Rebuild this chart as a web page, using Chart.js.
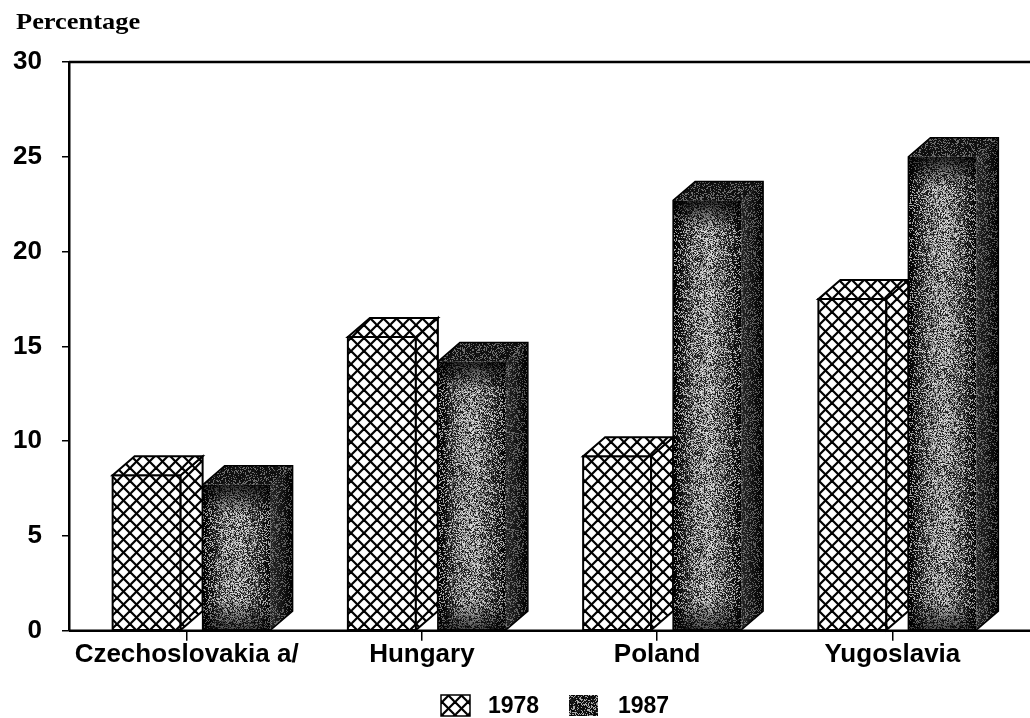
<!DOCTYPE html>
<html>
<head>
<meta charset="utf-8">
<script src="https://cdn.jsdelivr.net/npm/chart.js@4"></script>
<style>
html, body { margin: 0; background: #fff; }
#wrap { width: 1030px; height: 718px; }
</style>
</head>
<body>
<div id="wrap"><canvas id="canva"></canvas></div>
<script>
// data
const categories = ['Czechoslovakia a/', 'Hungary', 'Poland', 'Yugoslavia'];
const years = ['1978', '1987'];
const values1978 = [8.2, 15.5, 9.2, 17.5];
const values1987 = [7.7, 14.2, 22.7, 25.0];
const yTicks = [0, 5, 10, 15, 20, 25, 30];
const yTitle = 'Percentage';

const ctx = document.getElementById('canva');
const g2d = ctx.getContext('2d');

Chart.defaults.font.family = "'Liberation Sans', Arial, sans-serif";
Chart.defaults.color = '#000';

// cross hatch tile for 1978
function makeHatch() {
    const s = 13;
    const c = document.createElement('canvas');
    c.width = s; c.height = s;
    const g = c.getContext('2d');
    g.fillStyle = '#fff';
    g.fillRect(0, 0, s, s);
    g.strokeStyle = '#000';
    g.lineWidth = 2.2;
    for (const o of [-s, 0, s]) {
        g.beginPath(); g.moveTo(o - 1, -1); g.lineTo(o + s + 1, s + 1); g.stroke();
        g.beginPath(); g.moveTo(o + s + 1, -1); g.lineTo(o - 1, s + 1); g.stroke();
    }
    return g2d.createPattern(c, 'repeat');
}

// salt and pepper grain for 1987 (fixed hash, not data)
function makeGrain(size, seed) {
    const c = document.createElement('canvas');
    c.width = size; c.height = size;
    const g = c.getContext('2d');
    const img = g.createImageData(size, size);
    for (let i = 0; i < size * size; i++) {
        let h = Math.sin((i + seed) * 12.9898) * 43758.5453;
        h -= Math.floor(h);
        const p = i * 4;
        if (h < 0.36) {
            img.data[p] = img.data[p + 1] = img.data[p + 2] = 0; img.data[p + 3] = 190;
        } else if (h > 0.72) {
            img.data[p] = img.data[p + 1] = img.data[p + 2] = 255; img.data[p + 3] = 160;
        }
    }
    g.putImageData(img, 0, 0);
    return g2d.createPattern(c, 'repeat');
}

const hatch = makeHatch();
const grain = makeGrain(97, 7);

const dx = 22, dy = 19, shift = 16;

function poly(g, pts) {
    g.beginPath();
    g.moveTo(pts[0][0], pts[0][1]);
    for (let i = 1; i < pts.length; i++) g.lineTo(pts[i][0], pts[i][1]);
    g.closePath();
}

function hatchBar(g, L, R, T, B) {
    const faces = [
        [[L, T], [R, T], [R, B], [L, B]],
        [[R, T], [R + dx, T - dy], [R + dx, B - dy], [R, B]],
        [[L, T], [L + dx, T - dy], [R + dx, T - dy], [R, T]]
    ];
    g.lineWidth = 2;
    g.strokeStyle = '#000';
    g.lineJoin = 'miter';
    faces.forEach(f => {
        poly(g, f);
        g.fillStyle = hatch;
        g.fill();
        g.stroke();
    });
}

function grainBar(g, L, R, T, B) {
    // front
    const gr = g.createLinearGradient(L, 0, R, 0);
    gr.addColorStop(0, '#000');
    gr.addColorStop(0.1, '#1a1a1a');
    gr.addColorStop(0.32, '#7c7c7c');
    gr.addColorStop(0.55, '#9c9c9c');
    gr.addColorStop(0.82, '#4a4a4a');
    gr.addColorStop(1, '#050505');
    g.fillStyle = gr;
    g.fillRect(L, T, R - L, B - T);
    g.fillStyle = grain;
    g.fillRect(L, T, R - L, B - T);
    const vt = g.createLinearGradient(0, T, 0, T + 30);
    vt.addColorStop(0, 'rgba(0,0,0,0.8)');
    vt.addColorStop(1, 'rgba(0,0,0,0)');
    g.fillStyle = vt;
    g.fillRect(L, T, R - L, 30);
    const vb = g.createLinearGradient(0, B - 30, 0, B);
    vb.addColorStop(0, 'rgba(0,0,0,0)');
    vb.addColorStop(1, 'rgba(0,0,0,0.65)');
    g.fillStyle = vb;
    g.fillRect(L, B - 30, R - L, 30);
    // side
    const side = [[R, T], [R + dx, T - dy], [R + dx, B - dy], [R, B]];
    const sg = g.createLinearGradient(R, 0, R + dx, 0);
    sg.addColorStop(0, '#333');
    sg.addColorStop(1, '#000');
    poly(g, side);
    g.fillStyle = sg;
    g.fill();
    g.fillStyle = grain;
    g.globalAlpha = 0.5;
    g.fill();
    g.globalAlpha = 1;
    // top
    poly(g, [[L, T], [L + dx, T - dy], [R + dx, T - dy], [R, T]]);
    g.fillStyle = '#151515';
    g.fill();
    g.fillStyle = grain;
    g.globalAlpha = 0.6;
    g.fill();
    g.globalAlpha = 1;
    g.lineWidth = 1.5;
    g.strokeStyle = '#000';
    poly(g, [[L, T], [L + dx, T - dy], [R + dx, T - dy], [R + dx, B - dy], [R, B], [L, B]]);
    g.stroke();
}

const bars3d = {
    id: 'bars3d',
    beforeDatasetDraw() {
        return false;
    },
    afterDatasetsDraw(chart) {
        const g = chart.ctx;
        g.save();
        chart.getSortedVisibleDatasetMetas().forEach(meta => {
            meta.data.forEach(el => {
                const p = el.getProps(['x', 'y', 'base', 'width'], true);
                const L = p.x - p.width / 2 + shift;
                const R = L + p.width - dx;
                if (meta.index === 0) hatchBar(g, L, R, p.y, p.base);
                else grainBar(g, L, R, p.y, p.base);
            });
        });
        g.restore();
    },
    afterDraw(chart) {
        const g = chart.ctx;
        const a = chart.chartArea;
        g.save();
        // top frame line and x axis run to the edge of the sheet
        g.strokeStyle = '#000';
        g.lineWidth = 2.5;
        g.beginPath();
        g.moveTo(a.left, a.top); g.lineTo(chart.width, a.top);
        g.moveTo(a.left, a.bottom); g.lineTo(chart.width, a.bottom);
        g.stroke();
        // axis title
        g.font = "bold 24px 'Liberation Serif', 'Times New Roman', serif";
        g.textBaseline = 'alphabetic';
        g.textAlign = 'left';
        g.fillStyle = '#000';
        g.translate(16, 29);
        g.scale(1.1, 1);
        g.fillText(yTitle, 0, 0);
        g.setTransform(1, 0, 0, 1, 0, 0);
        // legend
        const ly = 695, lh = 21;
        g.lineWidth = 1.5;
        g.fillStyle = hatch;
        g.fillRect(441, ly, 29, lh);
        g.strokeRect(441, ly, 29, lh);
        g.fillStyle = '#1c1c1c';
        g.fillRect(569, ly, 29, lh);
        g.fillStyle = grain;
        g.fillRect(569, ly, 29, lh);
        g.font = "bold 23px 'Liberation Sans', Arial, sans-serif";
        g.fillStyle = '#000';
        g.textBaseline = 'middle';
        g.fillText(years[0], 488, ly + lh / 2 + 1);
        g.fillText(years[1], 618, ly + lh / 2 + 1);
        g.restore();
    }
};

Chart.defaults.font.size = 26;
const canva = new Chart(ctx, {
    type: 'bar',
    data: {
        labels: categories,
        datasets: [{
            label: years[0],
            data: values1978,
            backgroundColor: hatch,
            borderColor: '#000',
            barPercentage: 1,
            categoryPercentage: 0.765
        }, {
            label: years[1],
            data: values1987,
            backgroundColor: '#333',
            borderColor: '#000',
            barPercentage: 1,
            categoryPercentage: 0.765
        }]
    },
    options: {
        responsive: true,
        maintainAspectRatio: false,
        animation: false,
        layout: {
            padding: { top: 62, left: 12, right: 20, bottom: 50 }
        },
        plugins: {
            legend: { display: false },
            tooltip: { enabled: false }
        },
        scales: {
            x: {
                grid: {
                    display: true,
                    offset: false,
                    drawOnChartArea: false,
                    drawTicks: true,
                    tickLength: 10,
                    color: '#000',
                    lineWidth: 1.5
                },
                border: { display: false },
                ticks: {
                    padding: -2,
                    maxRotation: 0,
                    autoSkip: false,
                    font: { size: 26, weight: 'bold' }
                }
            },
            y: {
                min: 0,
                max: 30,
                afterBuildTicks: s => { s.ticks = yTicks.map(v => ({ value: v })); },
                afterFit: s => { s.width = 57; },
                grid: {
                    display: true,
                    drawOnChartArea: false,
                    drawTicks: true,
                    tickLength: 7,
                    color: '#000',
                    lineWidth: 1.5
                },
                border: { display: true, color: '#000', width: 2.5 },
                ticks: {
                    padding: 20,
                    font: { size: 26, weight: 'bold' }
                }
            }
        }
    },
    plugins: [bars3d]
});
</script>
</body>
</html>
